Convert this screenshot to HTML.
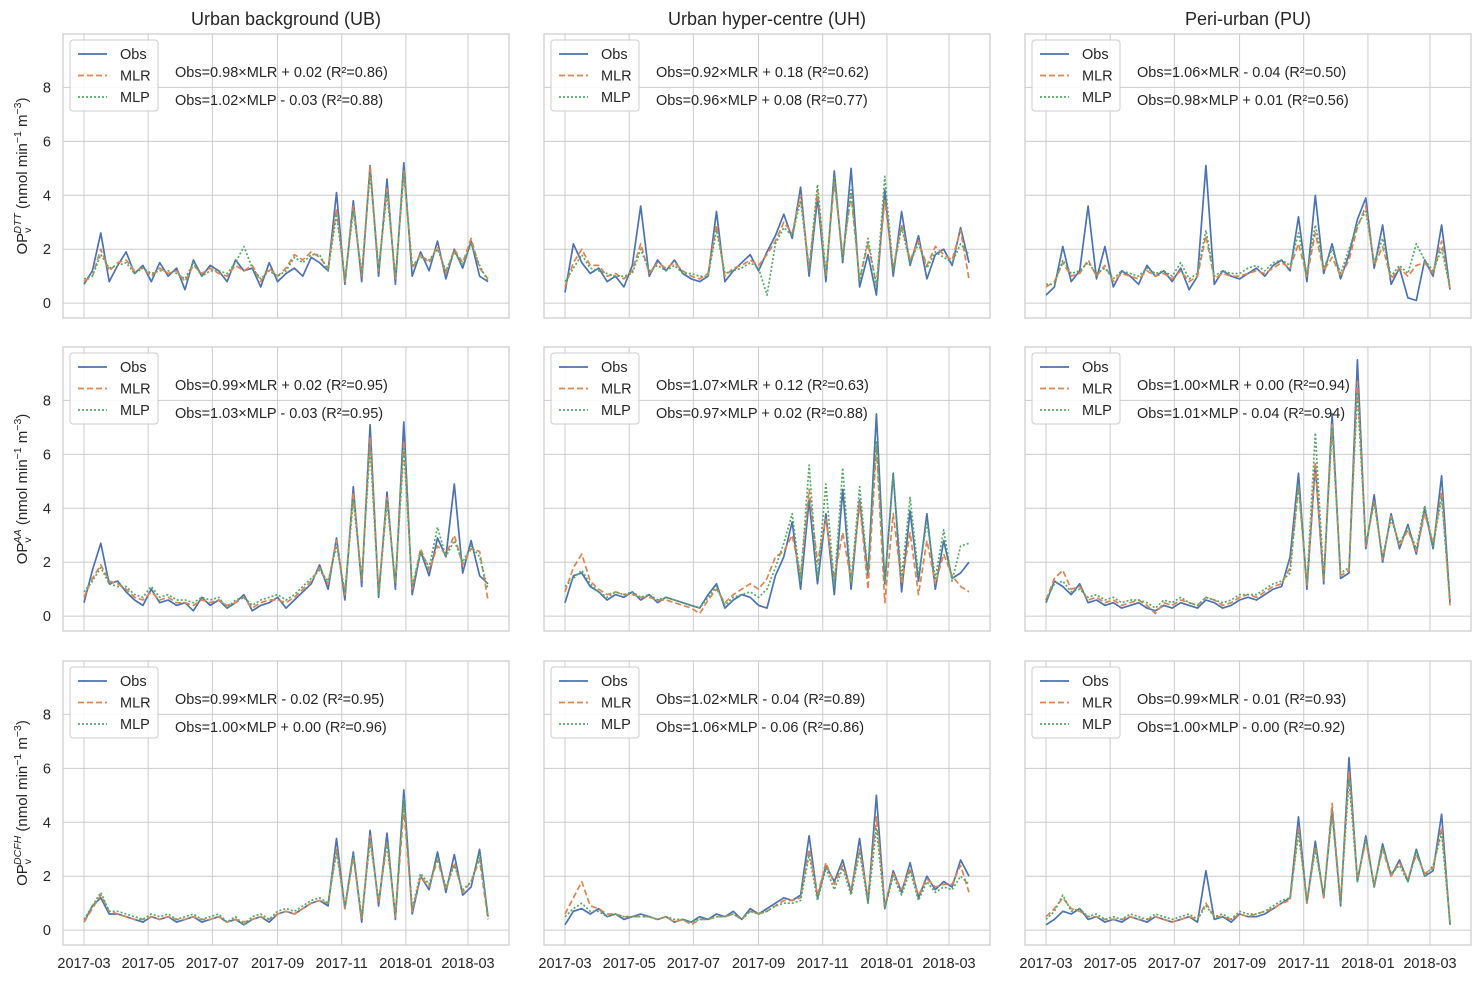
<!DOCTYPE html>
<html><head><meta charset="utf-8"><style>
body{margin:0;background:#fff}
svg{display:block;font-family:"Liberation Sans","DejaVu Sans",sans-serif}
</style></head><body>
<svg id="chart" width="1484" height="982" viewBox="0 0 1484 982" xmlns="http://www.w3.org/2000/svg"></svg>
<script>
const dayStep = 8;
const xTickDays = [0,61,122,184,245,306,365];
const xTickLabels = ["2017-03","2017-05","2017-07","2017-09","2017-11","2018-01","2018-03"];
const yTicks = [0,2,4,6,8];
const siteTitles = ["Urban background (UB)","Urban hyper-centre (UH)","Peri-urban (PU)"];
const assayNames = ["DTT","AA","DCFH"];
const seriesNames = ["Obs","MLR","MLP"];

const ub_dtt_obs=[0.7,1.2,2.6,0.8,1.4,1.9,1.1,1.4,0.8,1.5,1.0,1.3,0.5,1.6,1.0,1.4,1.2,0.8,1.6,1.2,1.3,0.6,1.5,0.8,1.1,1.3,1.0,1.7,1.5,1.2,4.1,0.7,3.8,0.8,5.1,1.0,4.6,0.7,5.2,1.0,1.9,1.2,2.3,0.9,2.0,1.3,2.3,1.0,0.8];
const ub_dtt_mlr=[0.8,1.0,2.0,1.2,1.5,1.6,1.2,1.3,1.0,1.3,1.1,1.2,0.8,1.4,1.1,1.3,1.1,1.0,1.4,1.2,1.4,0.8,1.3,1.0,1.3,1.8,1.6,1.9,1.7,1.3,3.5,0.8,3.6,1.0,5.1,1.2,4.3,0.9,4.9,1.3,1.8,1.5,2.1,1.1,2.0,1.5,2.4,1.3,0.9];
const ub_dtt_mlp=[0.9,1.0,1.8,1.3,1.4,1.5,1.1,1.3,1.1,1.2,1.2,1.1,0.9,1.5,1.0,1.2,1.2,1.1,1.5,2.1,1.3,0.9,1.2,1.0,1.2,1.7,1.5,1.8,1.8,1.2,3.3,0.9,3.4,1.1,4.8,1.3,4.1,1.0,4.8,1.4,1.7,1.6,2.0,1.2,1.9,1.4,2.2,1.4,0.8];
const uh_dtt_obs=[0.4,2.2,1.5,1.1,1.3,0.8,1.0,0.6,1.4,3.6,1.0,1.6,1.2,1.6,1.1,0.9,0.8,1.0,3.4,0.8,1.2,1.5,1.8,1.2,1.9,2.5,3.3,2.4,4.3,1.0,3.9,0.8,4.9,1.5,5.0,0.6,1.8,0.3,4.2,1.0,3.4,1.4,2.5,0.9,1.8,2.0,1.4,2.8,1.5];
const uh_dtt_mlr=[0.6,1.5,2.0,1.4,1.4,1.0,1.1,0.9,1.2,2.2,1.1,1.5,1.3,1.5,1.2,1.0,0.9,1.1,2.9,1.0,1.3,1.4,1.6,1.4,1.8,2.3,3.0,2.6,4.0,1.3,4.2,1.0,4.5,1.8,4.0,0.9,2.2,0.7,3.8,1.3,2.9,1.6,2.3,1.4,2.1,1.8,1.6,2.7,0.9];
const uh_dtt_mlp=[0.8,1.3,1.8,1.3,1.2,1.1,1.0,1.0,1.1,2.0,1.2,1.4,1.2,1.4,1.1,1.1,1.0,1.0,2.7,1.1,1.2,1.3,1.5,1.3,0.3,2.2,2.8,2.5,3.8,1.2,4.4,1.1,4.7,1.6,4.2,0.8,2.4,0.6,4.7,1.2,2.8,1.5,2.2,1.3,1.9,1.7,1.5,2.2,1.8];
const pu_dtt_obs=[0.3,0.6,2.1,0.8,1.2,3.6,0.9,2.1,0.6,1.2,1.0,0.7,1.4,1.0,1.2,0.8,1.3,0.5,1.0,5.1,0.7,1.2,1.0,0.9,1.1,1.3,1.0,1.4,1.6,1.2,3.2,0.8,4.0,1.1,2.2,0.9,1.8,3.1,3.9,1.3,2.9,0.7,1.3,0.2,0.1,1.6,1.0,2.9,0.5];
const pu_dtt_mlr=[0.6,0.8,1.5,1.0,1.1,1.6,1.0,1.4,0.8,1.1,1.0,0.9,1.2,1.0,1.1,0.9,1.2,0.8,1.0,2.5,0.9,1.1,1.0,1.0,1.1,1.2,1.1,1.3,1.5,1.3,2.2,1.0,2.6,1.2,1.7,1.0,1.6,2.8,3.6,1.4,2.1,0.9,1.3,1.0,1.4,1.5,1.1,2.3,0.5];
const pu_dtt_mlp=[0.7,0.7,1.6,1.1,1.2,1.5,1.1,1.3,0.9,1.2,1.1,1.0,1.3,1.1,1.2,1.0,1.5,0.9,1.1,2.7,1.0,1.2,1.1,1.1,1.3,1.4,1.2,1.5,1.6,1.4,2.6,1.1,2.9,1.3,2.0,1.1,2.0,2.9,3.4,1.5,2.4,1.0,1.4,1.1,2.2,1.6,1.2,2.0,0.6];

const ub_aa_obs=[0.5,1.7,2.7,1.2,1.3,0.9,0.6,0.4,1.0,0.5,0.6,0.4,0.5,0.2,0.7,0.4,0.6,0.3,0.5,0.8,0.2,0.4,0.5,0.7,0.3,0.6,0.9,1.2,1.9,1.0,2.9,0.6,4.8,1.1,7.1,0.7,4.6,1.0,7.2,0.8,2.4,1.5,2.9,2.2,4.9,1.6,2.8,1.5,1.2];
const ub_aa_mlr=[0.7,1.4,1.9,1.3,1.2,1.0,0.7,0.6,0.9,0.6,0.7,0.5,0.5,0.4,0.6,0.5,0.6,0.4,0.5,0.7,0.3,0.5,0.6,0.6,0.5,0.7,1.0,1.3,1.8,1.2,2.8,0.8,4.6,1.3,6.6,0.9,4.4,1.2,6.5,1.0,2.5,1.7,2.6,2.3,3.0,1.9,2.5,2.4,0.6];
const ub_aa_mlp=[0.9,1.3,1.8,1.2,1.1,1.1,0.8,0.7,1.1,0.7,0.8,0.6,0.6,0.5,0.7,0.6,0.7,0.3,0.6,0.7,0.4,0.6,0.7,0.8,0.6,0.8,1.1,1.4,1.7,1.3,2.6,0.9,4.3,1.4,6.3,0.8,4.2,1.3,6.2,1.1,2.4,1.8,3.3,2.2,2.8,2.0,2.6,2.2,1.0];
const uh_aa_obs=[0.5,1.5,1.6,1.1,0.9,0.6,0.8,0.7,0.9,0.6,0.8,0.5,0.7,0.6,0.5,0.4,0.3,0.8,1.2,0.3,0.6,0.8,0.7,0.4,0.3,1.5,2.2,3.5,1.0,4.3,1.2,3.8,0.8,4.7,1.0,4.3,1.5,7.5,1.2,5.3,0.9,3.9,1.3,3.8,1.0,2.8,1.4,1.6,2.0];
const uh_aa_mlr=[0.9,1.8,2.3,1.3,1.0,0.8,0.9,0.8,0.8,0.7,0.7,0.6,0.6,0.5,0.4,0.3,0.1,0.6,1.0,0.5,0.8,1.0,1.2,1.0,1.4,2.2,2.4,3.0,1.5,4.7,2.0,3.6,1.4,3.1,1.3,4.2,1.0,6.3,0.5,3.8,1.2,3.1,0.8,2.8,1.2,2.3,1.5,1.1,0.9];
const uh_aa_mlp=[1.1,1.4,1.7,1.2,0.9,0.7,0.9,0.8,0.9,0.7,0.8,0.6,0.7,0.6,0.5,0.4,0.3,0.7,1.1,0.4,0.7,0.8,0.9,0.7,1.0,1.8,2.7,3.8,1.3,5.6,1.4,4.9,1.1,5.5,1.2,4.8,1.6,6.5,1.3,5.2,1.4,4.4,1.5,3.5,1.4,3.2,1.3,2.6,2.7];
const pu_aa_obs=[0.5,1.3,1.1,0.8,1.2,0.5,0.6,0.4,0.5,0.3,0.4,0.5,0.3,0.2,0.4,0.3,0.5,0.4,0.3,0.6,0.5,0.3,0.4,0.6,0.7,0.6,0.8,1.0,1.1,2.2,5.3,1.0,5.6,1.2,7.5,1.4,1.6,9.5,2.5,4.5,2.0,3.8,2.5,3.4,2.3,4.0,2.5,5.2,0.5];
const pu_aa_mlr=[0.6,1.4,1.7,1.0,1.1,0.6,0.7,0.5,0.6,0.4,0.5,0.6,0.4,0.1,0.5,0.4,0.6,0.5,0.4,0.7,0.6,0.4,0.5,0.7,0.8,0.7,0.9,1.1,1.2,1.8,4.8,1.1,5.7,1.3,7.1,1.5,1.7,8.7,2.6,4.3,2.1,3.7,2.6,3.2,2.4,3.8,2.7,4.6,0.4];
const pu_aa_mlp=[0.6,1.2,1.3,0.9,1.0,0.7,0.8,0.6,0.7,0.5,0.6,0.6,0.5,0.3,0.6,0.5,0.7,0.5,0.4,0.7,0.6,0.5,0.6,0.8,0.8,0.8,1.0,1.2,1.3,1.6,4.9,1.2,6.8,1.4,7.0,1.6,1.8,8.3,2.7,4.2,2.2,3.6,2.7,3.3,2.5,4.1,2.6,4.4,0.6];

const ub_dcfh_obs=[0.3,0.9,1.2,0.6,0.6,0.5,0.4,0.3,0.5,0.4,0.5,0.3,0.4,0.5,0.3,0.4,0.5,0.3,0.4,0.2,0.4,0.5,0.3,0.6,0.7,0.6,0.8,1.0,1.1,0.9,3.4,0.8,2.9,0.3,3.7,0.9,3.6,0.4,5.2,0.6,2.0,1.5,2.9,1.4,2.8,1.3,1.6,3.0,0.5];
const ub_dcfh_mlr=[0.3,0.8,1.3,0.7,0.6,0.5,0.4,0.4,0.5,0.4,0.5,0.4,0.4,0.5,0.4,0.4,0.5,0.3,0.4,0.3,0.4,0.5,0.4,0.6,0.7,0.6,0.8,1.0,1.1,1.0,3.0,0.8,2.7,0.4,3.5,1.0,3.3,0.5,4.5,0.7,2.0,1.6,2.6,1.5,2.5,1.4,1.8,2.6,0.4];
const ub_dcfh_mlp=[0.4,0.9,1.4,0.7,0.7,0.6,0.5,0.4,0.6,0.5,0.6,0.4,0.5,0.6,0.4,0.5,0.6,0.3,0.5,0.2,0.5,0.6,0.4,0.7,0.8,0.7,0.9,1.1,1.2,1.0,2.9,0.9,2.8,0.5,3.3,1.1,3.2,0.6,4.9,0.8,2.1,1.7,2.7,1.6,2.4,1.5,1.8,2.8,0.5];
const uh_dcfh_obs=[0.2,0.7,0.8,0.6,0.8,0.5,0.6,0.4,0.5,0.6,0.5,0.4,0.5,0.3,0.4,0.3,0.5,0.4,0.6,0.5,0.7,0.4,0.8,0.6,0.8,1.0,1.2,1.1,1.3,3.5,1.2,2.4,1.8,2.6,1.4,3.4,1.0,5.0,0.8,2.2,1.4,2.5,1.2,2.0,1.5,1.8,1.6,2.6,2.0];
const uh_dcfh_mlr=[0.6,1.2,1.8,0.9,0.8,0.6,0.6,0.5,0.5,0.5,0.5,0.4,0.5,0.3,0.4,0.2,0.4,0.4,0.5,0.5,0.6,0.4,0.7,0.6,0.7,0.9,1.1,1.1,1.2,3.0,1.3,2.5,1.7,2.4,1.5,3.0,1.2,4.2,0.9,2.1,1.5,2.3,1.3,1.9,1.6,1.7,1.7,2.4,1.4];
const uh_dcfh_mlp=[0.5,0.8,1.0,0.7,0.7,0.5,0.6,0.5,0.5,0.5,0.5,0.4,0.5,0.4,0.4,0.3,0.4,0.4,0.5,0.5,0.6,0.4,0.7,0.6,0.7,0.9,1.0,1.0,1.1,2.8,1.1,2.3,1.5,2.3,1.3,2.9,1.0,3.8,0.8,2.0,1.3,2.2,1.1,1.8,1.4,1.6,1.5,2.0,1.7];
const pu_dcfh_obs=[0.2,0.4,0.7,0.6,0.8,0.4,0.5,0.3,0.4,0.3,0.5,0.4,0.3,0.5,0.4,0.3,0.4,0.5,0.3,2.2,0.4,0.5,0.3,0.6,0.5,0.5,0.6,0.8,1.0,1.2,4.2,1.0,3.3,1.2,4.5,0.9,6.4,1.8,3.5,1.6,3.2,2.0,2.6,1.8,3.0,2.0,2.2,4.3,0.2];
const pu_dcfh_mlr=[0.5,0.8,1.2,0.8,0.7,0.5,0.5,0.4,0.4,0.4,0.5,0.4,0.4,0.5,0.4,0.3,0.4,0.5,0.4,1.0,0.5,0.5,0.4,0.6,0.5,0.6,0.7,0.8,1.0,1.1,3.8,1.0,3.1,1.2,4.7,1.0,5.9,1.9,3.3,1.7,3.0,2.0,2.5,1.9,2.8,2.1,2.3,3.8,0.3];
const pu_dcfh_mlp=[0.4,0.7,1.3,0.7,0.8,0.5,0.6,0.4,0.5,0.4,0.6,0.5,0.4,0.6,0.5,0.4,0.5,0.6,0.4,0.9,0.5,0.6,0.4,0.7,0.6,0.6,0.7,0.9,1.1,1.2,3.6,1.1,3.0,1.3,4.3,1.0,5.6,1.8,3.4,1.6,3.1,2.1,2.4,1.8,2.9,2.0,2.4,3.6,0.3];

const eqMLR = [
 ["Obs=0.98×MLR + 0.02 (R²=0.86)","Obs=0.92×MLR + 0.18 (R²=0.62)","Obs=1.06×MLR - 0.04 (R²=0.50)"],
 ["Obs=0.99×MLR + 0.02 (R²=0.95)","Obs=1.07×MLR + 0.12 (R²=0.63)","Obs=1.00×MLR + 0.00 (R²=0.94)"],
 ["Obs=0.99×MLR - 0.02 (R²=0.95)","Obs=1.02×MLR - 0.04 (R²=0.89)","Obs=0.99×MLR - 0.01 (R²=0.93)"]];
const eqMLP = [
 ["Obs=1.02×MLP - 0.03 (R²=0.88)","Obs=0.96×MLP + 0.08 (R²=0.77)","Obs=0.98×MLP + 0.01 (R²=0.56)"],
 ["Obs=1.03×MLP - 0.03 (R²=0.95)","Obs=0.97×MLP + 0.02 (R²=0.88)","Obs=1.01×MLP - 0.04 (R²=0.94)"],
 ["Obs=1.00×MLP + 0.00 (R²=0.96)","Obs=1.06×MLP - 0.06 (R²=0.86)","Obs=1.00×MLP - 0.00 (R²=0.92)"]];

const panelSeries = [
 [[ub_dtt_obs,ub_dtt_mlr,ub_dtt_mlp],[uh_dtt_obs,uh_dtt_mlr,uh_dtt_mlp],[pu_dtt_obs,pu_dtt_mlr,pu_dtt_mlp]],
 [[ub_aa_obs,ub_aa_mlr,ub_aa_mlp],[uh_aa_obs,uh_aa_mlr,uh_aa_mlp],[pu_aa_obs,pu_aa_mlr,pu_aa_mlp]],
 [[ub_dcfh_obs,ub_dcfh_mlr,ub_dcfh_mlp],[uh_dcfh_obs,uh_dcfh_mlr,uh_dcfh_mlp],[pu_dcfh_obs,pu_dcfh_mlr,pu_dcfh_mlp]]];

const svg = document.getElementById('chart');
const NS = 'http://www.w3.org/2000/svg';
const colors = ['#4c72b0','#dd8452','#55a868'];
const dashes = ['', '6,3', '2,2'];
const PL=[63,544,1025], PT=[34,347,661], PW=446, PH=284;
const YMIN=-0.55, YMAX=9.98;
function mk(tag, attrs, parent){const e=document.createElementNS(NS,tag);for(const k in attrs)e.setAttribute(k,attrs[k]);(parent||svg).appendChild(e);return e;}
function xs(c,day){return PL[c]+21+day*1.052;}
function ys(r,v){return PT[r]+(YMAX-v)/(YMAX-YMIN)*PH;}

for(let r=0;r<3;r++){for(let c=0;c<3;c++){
  const g=mk('g',{});
  
  
  const bg=mk('rect',{x:PL[c],y:PT[r],width:PW,height:PH,fill:'#fff',stroke:'#cccccc','stroke-width':1.2},g);
  
  
  yTicks.forEach(t=>{
    const l=mk('line',{x1:PL[c],x2:PL[c]+PW,y1:ys(r,t),y2:ys(r,t),stroke:'#cccccc','stroke-width':1},g);
    
    
    if(c===0){const tx=mk('text',{x:PL[c]-12,y:ys(r,t)+5,'text-anchor':'end','font-size':14.5,fill:'#262626'},g);tx.textContent=t;
      
      }
  });
  xTickDays.forEach((d,i)=>{
    const l=mk('line',{x1:xs(c,d),x2:xs(c,d),y1:PT[r],y2:PT[r]+PH,stroke:'#cccccc','stroke-width':1},g);
    
    
    if(r===2){const tx=mk('text',{x:xs(c,d),y:PT[r]+PH+23,'text-anchor':'middle','font-size':14.5,fill:'#262626'},g);tx.textContent=xTickLabels[i];
      
      }
  });
  panelSeries[r][c].forEach((arr,s)=>{
    const pts=arr.map((v,i)=>xs(c,i*dayStep).toFixed(1)+','+ys(r,v).toFixed(1)).join(' ');
    const pl=mk('polyline',{points:pts,fill:'none',stroke:colors[s],'stroke-width':1.7,'stroke-dasharray':dashes[s],'stroke-linejoin':'round'},g);
    
    
  });
  const lg=mk('g',{},g);
  
  
  mk('rect',{x:PL[c]+7,y:PT[r]+6,width:88,height:71,rx:3,fill:'#fff','fill-opacity':0.85,stroke:'#cccccc'},lg);
  seriesNames.forEach((n,s)=>{
    const yy=PT[r]+20+s*21.5;
    const ll=mk('line',{x1:PL[c]+15,x2:PL[c]+44,y1:yy,y2:yy,stroke:colors[s],'stroke-width':1.7,'stroke-dasharray':dashes[s]},lg);
    
    
    const t=mk('text',{x:PL[c]+57,y:yy+5,'font-size':14.5,fill:'#262626'},lg);t.textContent=n;
    
    
  });
  const e1=mk('text',{x:PL[c]+112,y:PT[r]+43,'font-size':14.5,fill:'#262626'},g);e1.textContent=eqMLR[r][c];
  
  
  const e2=mk('text',{x:PL[c]+112,y:PT[r]+71,'font-size':14.5,fill:'#262626'},g);e2.textContent=eqMLP[r][c];
  
  
  if(r===0){const t=mk('text',{x:PL[c]+PW/2,y:25,'text-anchor':'middle','font-size':18,fill:'#262626'},g);t.textContent=siteTitles[c];
    
    }
}
  const cy=PT[r]+PH/2, cx=27;
  const yl=mk('text',{x:cx,y:cy,transform:'rotate(-90 '+cx+' '+cy+')','text-anchor':'middle','font-size':15,fill:'#262626'});
  
  
  yl.innerHTML='OP<tspan font-size="10.5" dy="4">v</tspan><tspan font-size="10.5" font-style="italic" dx="-6" dy="-10">'+assayNames[r]+'</tspan><tspan dy="6"> (nmol min</tspan><tspan font-size="10.5" dy="-6">−1</tspan><tspan dy="6"> m</tspan><tspan font-size="10.5" dy="-6">−3</tspan><tspan dy="6">)</tspan>';
}
</script>
</body></html>
